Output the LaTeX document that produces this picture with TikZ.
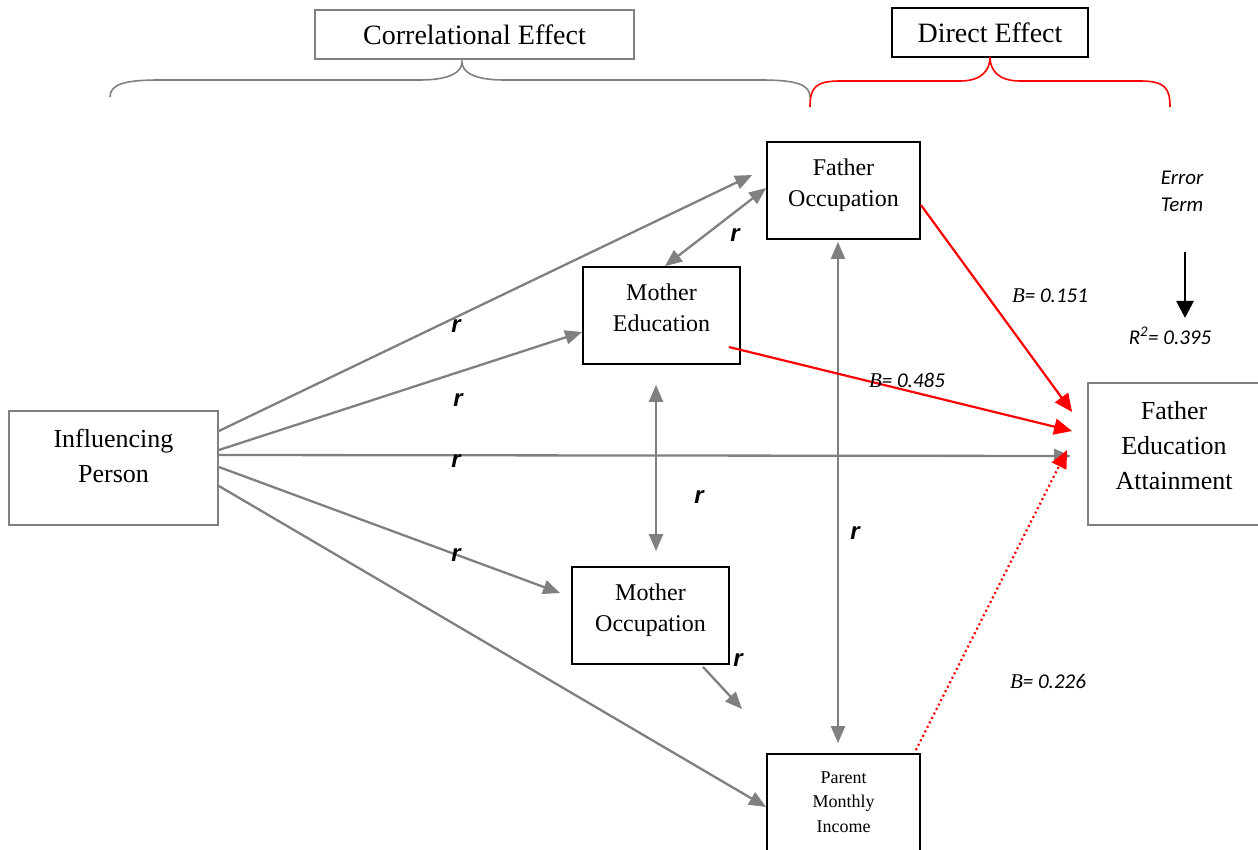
\documentclass[tikz,border=0pt]{standalone}
\usepackage{fontspec}
\setmainfont{Liberation Serif}
\newfontfamily\carl{Carlito}
\newfontfamily\lsans{Liberation Sans}
\usetikzlibrary{arrows.meta}
\definecolor{lgray}{RGB}{128,128,128}
\definecolor{pred}{RGB}{255,0,0}
\begin{document}
\begin{tikzpicture}[x=1pt,y=-1pt,
  blackbox/.style={draw=black, line width=1.8pt, inner sep=0pt},
  graybox/.style={draw=lgray, line width=1.8pt, inner sep=0pt},
  tx/.style={align=center, inner sep=0pt, font=\fontsize{24}{31}\selectfont},
  txbig/.style={align=center, inner sep=0pt, font=\fontsize{26}{35}\selectfont},
  txsmall/.style={align=center, inner sep=0pt, font=\fontsize{18}{24.5}\selectfont},
  headtxt/.style={font=\fontsize{28}{32}\selectfont},
  rlab/.style={inner sep=0pt, font=\lsans\bfseries\itshape\fontsize{24}{26}\selectfont},
  blab/.style={inner sep=0pt, font=\carl\itshape\fontsize{21}{24}\selectfont},
  garrow/.style={draw=lgray, line width=2.3pt, -{Triangle[length=17pt,width=14pt]}},
  gboth/.style={draw=lgray, line width=2.3pt, {Triangle[length=17pt,width=14pt]}-{Triangle[length=17pt,width=14pt]}},
  rarrow/.style={draw=pred, line width=2.2pt, -{Triangle[length=18pt,width=16pt]}},
  rdots/.style={draw=pred, line width=2.2pt, dash pattern=on 2pt off 3pt, -{Triangle[length=18pt,width=16pt,sep=0pt]}},
  karrow/.style={draw=black, line width=2.8pt, -{Triangle[length=17pt,width=17pt]}},
  brace/.style={line width=1.6pt}
]
\useasboundingbox (0,0) rectangle (1258,850);
\fill[white] (0,0) rectangle (1258,850);

% header boxes
\node[graybox, headtxt, minimum width=319pt, minimum height=49pt] (ce) at (474.5,34.5) {Correlational Effect};
\node[blackbox, headtxt, minimum width=196pt, minimum height=49pt] (de) at (990,32.5) {Direct Effect};

% braces
\draw[brace, lgray] (110,97) .. controls (110,84) and (125,80) .. (160,80) -- (420,80)
  .. controls (450,80) and (462,72) .. (462,62)
  .. controls (462,72) and (474,80) .. (504,80) -- (760,80)
  .. controls (795,80) and (810,84) .. (810,97);
\draw[brace, pred] (810,107) .. controls (810,88) and (815,81) .. (840,81) -- (960,81)
  .. controls (982,81) and (990,70) .. (990,57)
  .. controls (990,70) and (998,81) .. (1020,81) -- (1140,81)
  .. controls (1165,81) and (1170,88) .. (1170,107);

% boxes
\node[blackbox, minimum width=153pt, minimum height=97pt] (fo) at (843.5,190.5) {};
\node[tx] (fot) at (843.5,185) {Father\\Occupation};
\node[blackbox, minimum width=157pt, minimum height=97pt] (me) at (661.5,315.5) {};
\node[tx] (met) at (661.5,307.5) {Mother\\Education};
\node[graybox, minimum width=209pt, minimum height=114pt] (ip) at (113.5,468) {};
\node[txbig] (ipt) at (113.5,456) {Influencing\\Person};
\node[graybox, minimum width=172pt, minimum height=142pt] (fea) at (1174,454) {};
\node[txbig] (feat) at (1174,446) {Father\\Education\\Attainment};
\node[blackbox, minimum width=157pt, minimum height=97pt] (mo) at (650.5,615.5) {};
\node[tx] (mot) at (650.5,610.5) {Mother\\Occupation};
\node[blackbox, minimum width=153pt, minimum height=102pt] (pmi) at (843.5,805) {};
\node[txsmall] (pmit) at (843.5,802) {Parent\\Monthly\\Income};

% gray arrows from Influencing Person
\draw[garrow] ([yshift=37pt]ip.east) -- ([xshift=-14pt,yshift=15.5pt]fo.west);
\draw[garrow] ([yshift=18pt]ip.east) -- ([yshift=-16.5pt]me.west);
\draw[garrow] ([yshift=13pt]ip.east) -- ([xshift=-16pt,yshift=-2pt]fea.west);
\draw[garrow] ([yshift=1pt]ip.east) -- ([xshift=-11pt,yshift=22.5pt]mo.west);
\draw[garrow] ([yshift=-18pt]ip.east) -- ([yshift=-2pt]pmi.west);

% correlations
\draw[gboth] ([xshift=3.5pt]me.north) -- ([yshift=2.5pt]fo.west);
\draw[gboth] ([xshift=-5.5pt,yshift=-20pt]me.south) -- ([xshift=5.5pt,yshift=15pt]mo.north);
\draw[gboth] ([xshift=-5.5pt,yshift=-2pt]fo.south) -- ([xshift=-5.5pt,yshift=10pt]pmi.north);
\coordinate (moend) at (742,709);
\draw[garrow] ([xshift=52.5pt,yshift=-2pt]mo.south) -- (moend);

% red direct effects
\draw[rarrow] ([yshift=-14.5pt]fo.east) -- ([xshift=-15pt,yshift=42pt]fea.west);
\draw[rarrow] ([xshift=-12pt,yshift=-31.5pt]me.east) -- ([xshift=-15pt,yshift=23pt]fea.west);
\draw[rdots] ([xshift=-5pt,yshift=3pt]pmi.north east) -- ([xshift=-20pt,yshift=4pt]fea.west);

% error term
\node[blab, align=center, font=\carl\itshape\fontsize{21}{27}\selectfont] (err) at (1182,191) {Error\\Term};
\coordinate (errs) at (1185,252);
\coordinate (erre) at (1185,318);
\draw[karrow] (errs) -- (erre);
\node[blab] (rsq) at (1170,336) {R\textsuperscript{2}= 0.395};

% labels
\node[rlab] (r1) at (456,326) {r};
\node[rlab] (r2) at (458,400) {r};
\node[rlab] (r3) at (456,461) {r};
\node[rlab] (r4) at (456,555) {r};
\node[rlab] (r5) at (735,235) {r};
\node[rlab] (r6) at (699,497) {r};
\node[rlab] (r7) at (855,533) {r};
\node[rlab] (r8) at (738,660) {r};
\node[blab] (b1) at (1050,296) {{\rmfamily\itshape B}= 0.151};
\node[blab] (b2) at (907,380) {{\rmfamily\itshape B}= 0.485};
\node[blab] (b3) at (1048,681) {{\rmfamily\itshape B}= 0.226};
\end{tikzpicture}
\end{document}
